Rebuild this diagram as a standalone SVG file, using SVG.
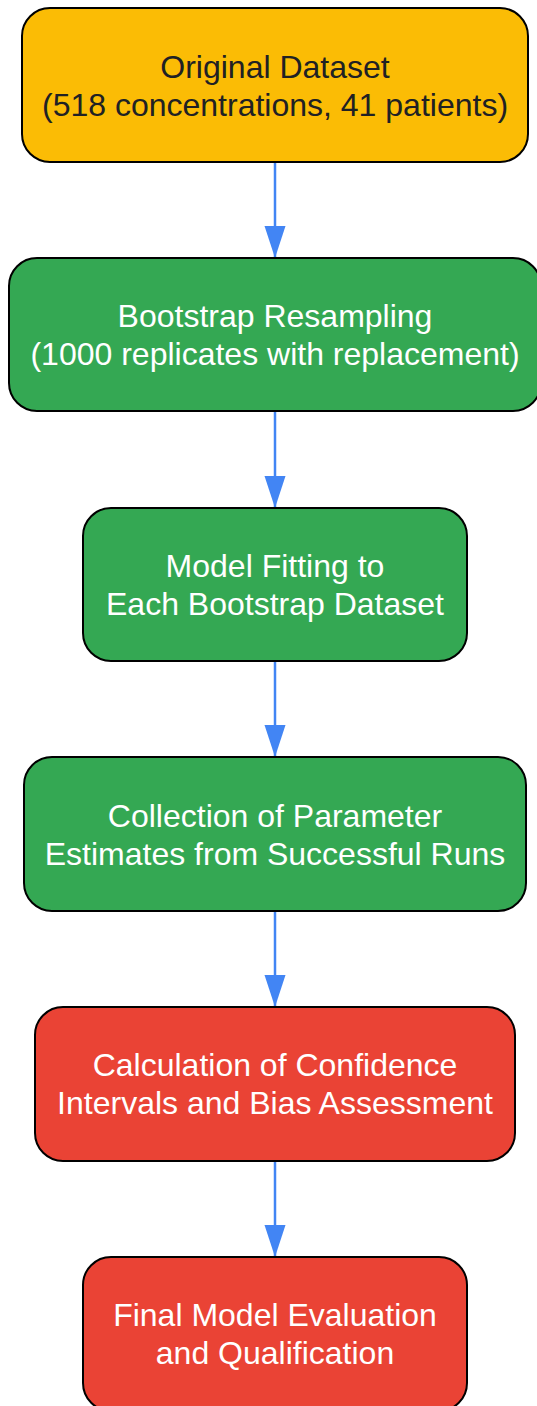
<svg xmlns="http://www.w3.org/2000/svg" width="537" height="1406" viewBox="0 0 537 1406">
<style>
.box{stroke:#000;stroke-width:2}
.y{fill:#FBBC05}.g{fill:#34A853}.r{fill:#EA4335}
text{font-family:"Liberation Sans",Arial,sans-serif;font-size:32px;text-anchor:middle}
.dk{fill:#202124}.wt{fill:#fff}
.edge{stroke:#4285F4;stroke-width:2.5;fill:none}
</style>
<defs>
<marker id="ah" markerUnits="userSpaceOnUse" markerWidth="32" markerHeight="22" refX="31" refY="11" orient="auto" viewBox="0 0 32 22">
<path d="M0,0.5 L32,11 L0,21.5 Z" fill="#4285F4"/>
</marker>
</defs>
<g id="connectors">
<line class="edge" x1="275" y1="162" x2="275" y2="257" marker-end="url(#ah)"/>
<line class="edge" x1="275" y1="411" x2="275" y2="507" marker-end="url(#ah)"/>
<line class="edge" x1="275" y1="661" x2="275" y2="756" marker-end="url(#ah)"/>
<line class="edge" x1="275" y1="911" x2="275" y2="1006" marker-end="url(#ah)"/>
<line class="edge" x1="275" y1="1161" x2="275" y2="1256" marker-end="url(#ah)"/>
</g>
<g id="node1">
<rect class="box y" x="22" y="8" width="506" height="154" rx="28"/>
<text class="dk" x="275" y="77.7">Original Dataset</text>
<text class="dk" x="275" y="115.7">(518 concentrations, 41 patients)</text>
</g>
<g id="node2">
<rect class="box g" x="9" y="258" width="532" height="153" rx="28"/>
<text class="wt" x="275" y="327.2">Bootstrap Resampling</text>
<text class="wt" x="275" y="365.2">(1000 replicates with replacement)</text>
</g>
<g id="node3">
<rect class="box g" x="83" y="508" width="384" height="153" rx="28"/>
<text class="wt" x="275" y="577">Model Fitting to</text>
<text class="wt" x="275" y="615">Each Bootstrap Dataset</text>
</g>
<g id="node4">
<rect class="box g" x="24" y="757" width="502" height="154" rx="28"/>
<text class="wt" x="275" y="826.5">Collection of Parameter</text>
<text class="wt" x="275" y="864.5">Estimates from Successful Runs</text>
</g>
<g id="node5">
<rect class="box r" x="35" y="1007" width="480" height="154" rx="28"/>
<text class="wt" x="275" y="1076">Calculation of Confidence</text>
<text class="wt" x="275" y="1114">Intervals and Bias Assessment</text>
</g>
<g id="node6">
<rect class="box r" x="83" y="1257" width="384" height="154" rx="28"/>
<text class="wt" x="275" y="1326">Final Model Evaluation</text>
<text class="wt" x="275" y="1364">and Qualification</text>
</g>
</svg>
